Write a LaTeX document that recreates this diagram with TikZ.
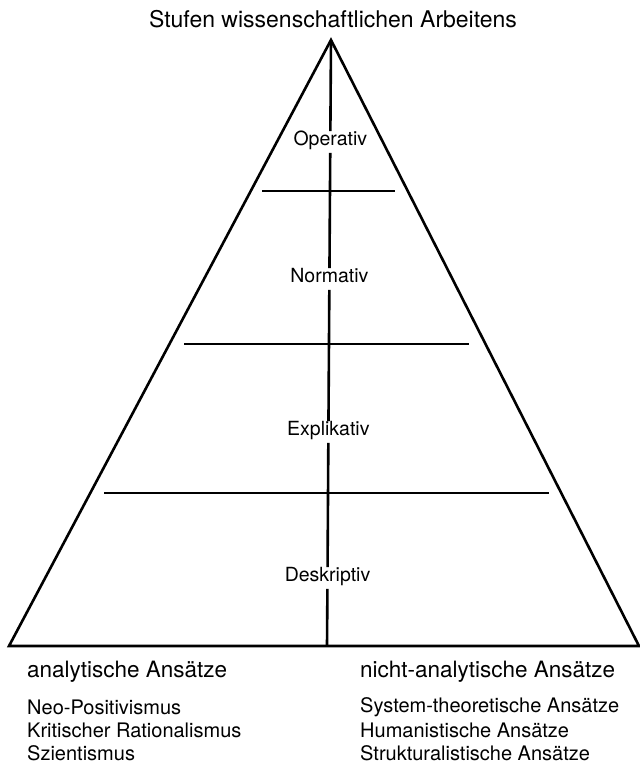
\documentclass[tikz,border=0pt]{standalone}
\usepackage{fontspec}
\setmainfont{TeX Gyre Heros}

\tikzstyle{stufe} = [font=\fontsize{19.5}{22}\selectfont,inner xsep=2pt,inner ysep=6pt,text height=1.5ex,text depth=0.25ex]
\tikzstyle{titel} = [font=\fontsize{23}{27}\selectfont,inner sep=0pt]
\tikzstyle{ansatz} = [font=\fontsize{22.5}{26}\selectfont,anchor=west,inner sep=0pt]
\tikzstyle{eintrag} = [font=\fontsize{20}{23}\selectfont,anchor=west,inner sep=0pt]
\tikzstyle{linie} = [line width=2.6pt]

\begin{document}
\begin{tikzpicture}[x=1pt,y=-1pt]
	\useasboundingbox (0,0) rectangle (640,774);

	\node (titel) [titel] at (333,19) {Stufen wissenschaftlichen Arbeitens};

	\coordinate (apex) at (331,40);
	\coordinate (links) at (9,646);
	\coordinate (rechts) at (639,646);
	\coordinate (fuss) at (327,646);

	\draw[linie,line join=miter] (links) -- (apex) -- (rechts) -- cycle;

	\node (op) [stufe] at (330.3,142) {Operativ};
	\node (norm) [stufe] at (329.4,279) {Normativ};
	\node (expl) [stufe] at (328.4,432) {Explikativ};
	\node (desk) [stufe] at (327.5,578) {Deskriptiv};

	\coordinate (t1_l) at (262,191);
	\coordinate (t1_r) at (395,191);
	\coordinate (t2_l) at (184,344);
	\coordinate (t2_r) at (469,344);
	\coordinate (t3_l) at (104,493);
	\coordinate (t3_r) at (549,493);

	\path[linie]
		(apex) edge (op)
		(op) edge (norm)
		(norm) edge (expl)
		(expl) edge (desk)
		(desk) edge (fuss)

		(t1_l) edge (t1_r)
		(t2_l) edge (t2_r)
		(t3_l) edge (t3_r)
		;

	\node (ana) [ansatz] at (27,672) {analytische Ansätze};
	\node (neo) [eintrag] at (27,707) {Neo-Positivismus};
	\node (krit) [eintrag] at (27,730) {Kritischer Rationalismus};
	\node (szi) [eintrag] at (27,753) {Szientismus};

	\node (nana) [ansatz] at (360,672) {nicht-analytische Ansätze};
	\node (sys) [eintrag] at (360,707) {System-theoretische Ansätze};
	\node (hum) [eintrag] at (360,730) {Humanistische Ansätze};
	\node (struk) [eintrag] at (360,753) {Strukturalistische Ansätze};

\end{tikzpicture}
\end{document}
